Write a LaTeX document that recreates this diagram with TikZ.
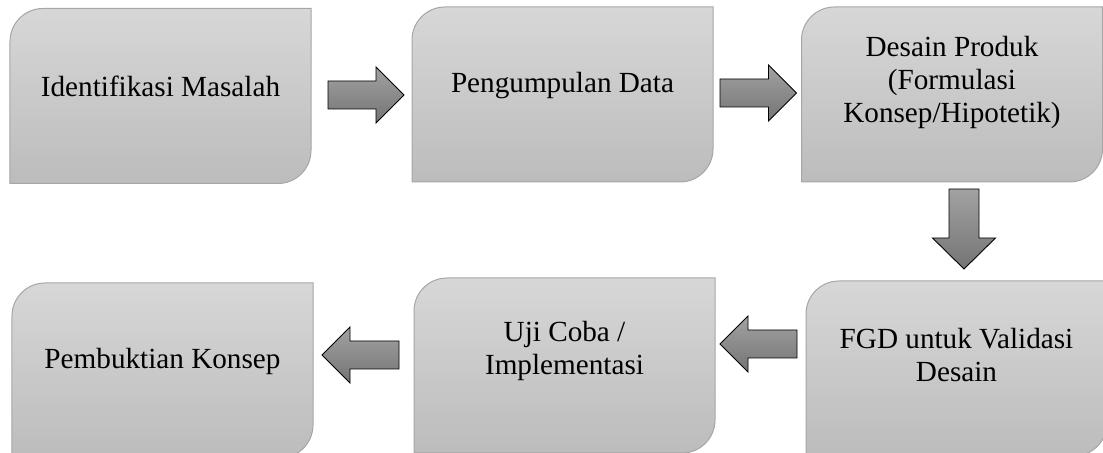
\documentclass[tikz,border=0pt]{standalone}
\usepackage{fontspec}
\setmainfont{Liberation Serif}
\usetikzlibrary{calc}

\pgfdeclarelayer{bg}
\pgfsetlayers{bg,main}

\definecolor{boxtop}{HTML}{D7D7D7}
\definecolor{boxbottom}{HTML}{BCBCBC}
\definecolor{boxline}{HTML}{A6A6A6}
\definecolor{arrowtop}{HTML}{A2A2A2}
\definecolor{arrowbottom}{HTML}{747474}

% text block of a step box: #1 = distance from the top edge to the first baseline
\newcommand\boxtext[2]{\parbox[c][175bp][t]{301bp}{\centering\rule{0pt}{#1}#2\par}}

% outline of a step box: rounded top-left and bottom-right corners
\newcommand\stepshape[1]{%
  \path[stepfill] (#1.south west) -- ([yshift=-33bp]#1.north west)
    arc[start angle=180, end angle=90, radius=33bp] -- (#1.north east)
    -- ([yshift=33bp]#1.south east)
    arc[start angle=0, end angle=-90, radius=33bp] -- cycle;}

% horizontal block arrow from tail #1 to tip #2
\newcommand\hblock[2]{%
  \path[blockarrow] let \p1=(#1), \p2=(#2), \n1={sign(\x2-\x1)} in
    (\x1,{\y1+14bp}) -- ({\x2-\n1*28bp},{\y1+14bp}) -- ({\x2-\n1*28bp},{\y1+28bp})
    -- (\x2,\y1) -- ({\x2-\n1*28bp},{\y1-28bp}) -- ({\x2-\n1*28bp},{\y1-14bp})
    -- (\x1,{\y1-14bp}) -- cycle;}

% downward block arrow from tail #1 to tip #2
\newcommand\vblock[2]{%
  \path[blockarrow] let \p1=(#1), \p2=(#2) in
    ({\x1-15bp},\y1) -- ({\x1+15bp},\y1) -- ({\x1+15bp},{\y2+31bp})
    -- ({\x1+31.5bp},{\y2+31bp}) -- (\x1,\y2) -- ({\x1-31.5bp},{\y2+31bp})
    -- ({\x1-15bp},{\y2+31bp}) -- cycle;}

\tikzset{
  stepbox/.style={inner sep=0pt, outer sep=0pt,
    font=\fontsize{29.2bp}{33bp}\selectfont},
  stepfill/.style={draw=boxline, line width=1bp,
    top color=boxtop, bottom color=boxbottom},
  blockarrow/.style={draw=black, line width=0.9bp, line join=miter,
    top color=arrowtop, bottom color=arrowbottom},
}

\begin{document}
\begin{tikzpicture}[x=1bp, y=1bp]
  \useasboundingbox (0,0) rectangle (1103,453);
  \clip (0,0) rectangle (1103,453);

  % steps, top row left to right
  \node[stepbox] (b1) at (160.5,357)  {\boxtext{88bp}{Identifikasi Masalah}};
  \node[stepbox] (b2) at (562.5,358.5) {\boxtext{86bp}{Pengumpulan Data}};
  \node[stepbox] (b3) at (952,358.5)  {\boxtext{50bp}{Desain Produk\\(Formulasi\\Konsep/Hipotetik)}};
  % bottom row right to left
  \node[stepbox] (b4) at (956.5,84.5) {\boxtext{68bp}{FGD untuk Validasi\\Desain}};
  \node[stepbox] (b5) at (564.5,87.5) {\boxtext{64bp}{Uji Coba /\\Implementasi}};
  \node[stepbox] (b6) at (162.5,82.5) {\boxtext{86bp}{Pembuktian Konsep}};

  \begin{pgfonlayer}{bg}
    \foreach \b in {b1,b2,b3,b4,b5,b6} {\stepshape{\b}}
  \end{pgfonlayer}

  % arrow end points
  \coordinate (a1s) at ($(b1.east)+(17,1)$);
  \coordinate (a1e) at ($(b2.west)+(-8,0)$);
  \coordinate (a2s) at ($(b2.east)+(7,1.5)$);
  \coordinate (a2e) at ($(b3.west)+(-5,0)$);
  \coordinate (a3s) at ($(b3.south)+(12,-7)$);
  \coordinate (a3e) at ($(b4.north)+(7.5,12)$);
  \coordinate (a4s) at ($(b4.west)+(-9,24.5)$);
  \coordinate (a4e) at ($(b5.east)+(5,0)$);
  \coordinate (a5s) at ($(b5.west)+(-15,10.5)$);
  \coordinate (a5e) at ($(b6.east)+(9,0)$);

  \hblock{a1s}{a1e}
  \hblock{a2s}{a2e}
  \vblock{a3s}{a3e}
  \hblock{a4s}{a4e}
  \hblock{a5s}{a5e}
\end{tikzpicture}
\end{document}
